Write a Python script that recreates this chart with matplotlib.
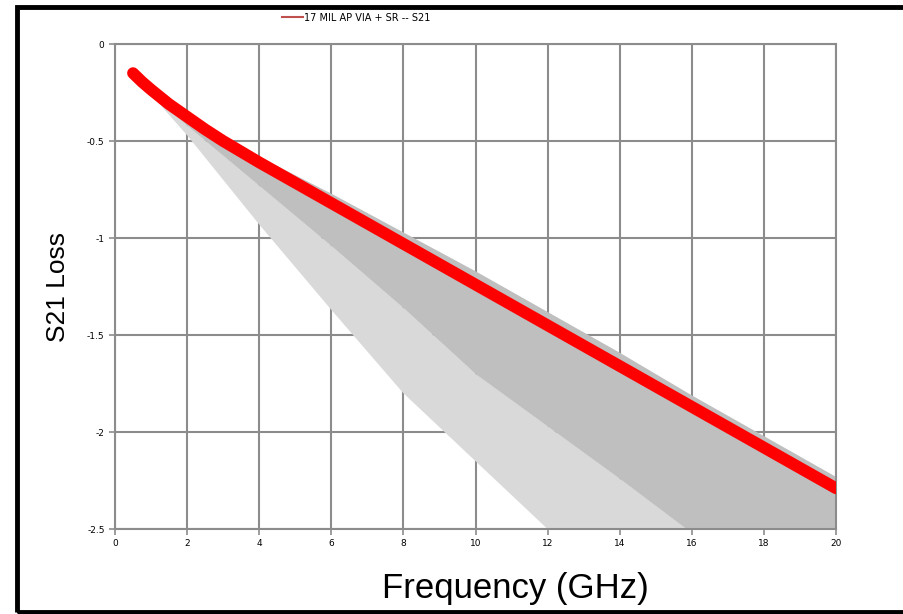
import matplotlib
matplotlib.use("Agg")
import matplotlib.pyplot as plt
from matplotlib.lines import Line2D
from matplotlib.patches import Rectangle

# S21 curve (GHz, dB)
freq = [0.5, 0.75, 1, 1.5, 2, 2.5, 3, 3.5, 4, 5, 6, 7, 8, 9, 10,
        11, 12, 13, 14, 15, 16, 17, 18, 19, 20]
s21 = [-0.15, -0.195, -0.235, -0.31, -0.375, -0.44, -0.50, -0.555, -0.61,
       -0.715, -0.82, -0.925, -1.03, -1.135, -1.24, -1.345, -1.45, -1.555,
       -1.66, -1.765, -1.87, -1.975, -2.08, -2.185, -2.29]

# shaded limit bands
band_x = [1, 2, 4, 6, 8, 10, 12, 14, 16, 18, 20]
band_top = [-0.25, -0.36, -0.58, -0.77, -0.97, -1.17, -1.38, -1.59, -1.81, -2.02, -2.23]
band_mid = [-0.26, -0.42, -0.73, -1.04, -1.36, -1.70, -1.97, -2.24, -2.52, -2.80, -3.08]
band_low = [-0.26, -0.47, -0.93, -1.37, -1.80, -2.15, -2.50, -2.85, -3.20, -3.55, -3.90]

legend_label = "17 MIL AP VIA + SR -- S21"
x_ticks = list(range(0, 21, 2))
y_ticks = [0, -0.5, -1, -1.5, -2, -2.5]
y_ticklabels = ["0", "-0.5", "-1", "-1.5", "-2", "-2.5"]

grid_c = "#8c8c8c"

fig = plt.figure(figsize=(9.04, 6.14), dpi=100)
ax = fig.add_axes([0.1272, 0.1384, 0.7976, 0.7899])

ax.fill_between(band_x, band_mid, band_low, color="#d9d9d9", lw=0, zorder=2)
ax.fill_between(band_x, band_top, band_mid, color="#bfbfbf", lw=0, zorder=2)
ax.plot(freq, s21, color="#ff0000", lw=8.5, solid_capstyle="round",
        solid_joinstyle="round", zorder=3)

ax.set_xlim(0, 20)
ax.set_ylim(-2.5, 0)
ax.set_xticks(x_ticks)
ax.set_yticks(y_ticks)
ax.set_yticklabels(y_ticklabels)
ax.grid(True, color=grid_c, lw=1.5, zorder=1)
ax.set_axisbelow(True)
for s in ax.spines.values():
    s.set_color(grid_c)
    s.set_linewidth(1.5)
ax.tick_params(colors=grid_c, labelcolor="black", labelsize=6.5, length=4, width=1.2)

ax.set_xlabel("Frequency (GHz)", fontsize=25, family="Liberation Sans")
ax.xaxis.set_label_coords(0.555, -0.088)
ax.set_ylabel("S21 Loss", fontsize=19, family="Liberation Sans", labelpad=12)

handle = Line2D([], [], color="#c0504d", lw=1.5)
fig.legend([handle], [legend_label], loc="center", bbox_to_anchor=(0.394, 0.971),
           frameon=False, fontsize=7, handlelength=2.2, handletextpad=0.1)

fig.patches.append(Rectangle((0.0188, 0.0033), 1.0, 0.986, transform=fig.transFigure,
                             fill=False, edgecolor="black", lw=3.5, clip_on=False))

fig.savefig("out.png", dpi=100)
